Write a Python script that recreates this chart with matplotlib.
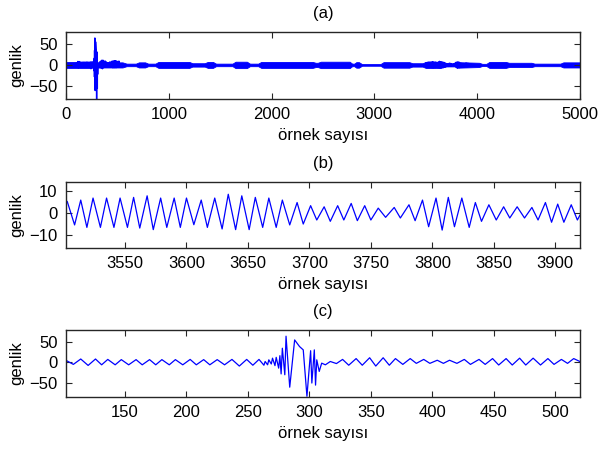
import matplotlib
matplotlib.use("Agg")
import matplotlib.pyplot as plt

plt.rcParams["font.family"] = ["Liberation Sans", "DejaVu Sans"]
plt.rcParams["font.size"] = 12

# (a) whole record: amplitude envelope of the dense oscillation (sample, +/- amplitude)
env_pos = [0, 240, 250, 320, 550, 590, 680, 710, 770, 800, 870, 900, 1200, 1230, 1350,
           1380, 1430, 1460, 1620, 1650, 1760, 1790, 1870, 1900, 2400, 2430, 2450, 2480,
           2760, 2785, 2805, 2825, 2850, 2880, 3060, 3090, 3340, 3370, 3470, 3500, 3640,
           3700, 3790, 3805, 4020, 4050, 4090, 4120, 4280, 4310, 4530, 4560, 4810, 4840, 5000]
env_amp = [7, 7, 6, 6, 6, 3, 3, 6, 6, 3, 3, 7, 7, 4, 4,
           7, 7, 3, 3, 7.5, 7.5, 3, 3, 7, 7, 5, 5, 7.5,
           7.5, 3, 3, 6.5, 6.5, 2, 2, 6.5, 6.5, 4, 4, 7, 7,
           3.5, 3.5, 6.5, 5, 2.5, 2.5, 7, 7, 5, 5, 3, 3, 6, 6]

# (b) samples 3502-3920: peaks and troughs
b_pos = [3502, 3503, 3509, 3514, 3519, 3524, 3530, 3535, 3541, 3546, 3552, 3557, 3562, 3568,
         3573, 3579, 3584, 3590, 3595, 3600, 3606, 3612, 3617, 3623, 3629, 3634, 3640, 3645,
         3651, 3656, 3662, 3667, 3673, 3678, 3684, 3690, 3695, 3701, 3706, 3712, 3717, 3723,
         3728, 3734, 3739, 3745, 3750, 3756, 3762, 3769, 3774, 3781, 3786, 3792, 3797, 3803,
         3808, 3813, 3818, 3824, 3830, 3835, 3840, 3846, 3852, 3858, 3863, 3869, 3875, 3881,
         3886, 3892, 3897, 3902, 3907, 3913, 3918, 3920]
b_val = [4.0, 5.2, -5.3, 5.8, -6.4, 6.7, -6.4, 6.7, -6.4, 6.7, -6.4, 7.0, -6.7, 7.7,
         -7.4, 6.7, -6.4, 6.7, -6.4, 6.7, -5.2, 5.8, -6.4, 6.7, -7.1, 8.4, -7.4, 7.7,
         -7.4, 7.0, -6.4, 6.7, -6.4, 5.8, -5.3, 4.7, -4.9, 3.3, -3.1, 2.8, -3.7, 3.3,
         -3.1, 4.3, -3.4, 3.3, -3.1, 2.2, -1.9, 2.5, -2.2, 3.7, -3.4, 5.8, -6.1, 6.7,
         -7.6, 7.0, -6.1, 6.7, -6.4, 4.7, -3.7, 3.7, -3.1, 2.8, -2.2, 2.8, -2.2, 2.5,
         -3.1, 4.7, -4.1, 4.0, -4.1, 3.7, -3.1, -1.0]

# (c) samples 102-520: peaks and troughs around the burst
c_pos = [102, 108, 114, 120, 126, 131, 136, 142, 147, 153, 159, 164, 170, 175, 180, 186,
         191, 197, 203, 208, 214, 219, 225, 231, 237, 243, 249, 254, 259, 263, 264, 266,
         267, 269, 270, 272, 273, 275, 276, 277, 278, 280, 281, 284, 288, 292, 295, 298,
         301, 302, 304, 305, 306, 308, 310, 313, 317, 322, 327, 332, 338, 343, 349, 354,
         360, 365, 370, 376, 382, 387, 393, 398, 404, 409, 414, 420, 426, 431, 438, 443,
         449, 454, 460, 465, 471, 476, 482, 488, 494, 499, 505, 510, 515, 520]
c_val = [4.7, -5, 8, -7.5, 8, -6, 7, -6, 6.5, -6, 6.5, -6, 6.5, -6, 6.5, -6,
         6.5, -6, 7, -6, 6.5, -6, 6.5, -6, 7, -9, 7, -7, 7, -7, 2, -6,
         6, -4, 10, -8, 12, -14, 16, -28, 34, -30, 63, -60, 54, 38, 30, -82,
         28, -50, 30, -55, 6, -22, -2, -6, 2, -3, 7, -7, 9, -7, 11, -9,
         11, -7, 9, -5, 9, -2.5, 7, -2.5, 5, -2.5, 5, -2.5, 7, -5, 7, -5,
         9, -6.5, 9, -6.5, 10, -6.5, 10, -6.5, 9, -5, 7, -2.5, 9, 2]

blue = "#0000ff"
edge = "#262626"

fig = plt.figure(figsize=(6.01, 4.5), dpi=100)
ax_a = fig.add_axes([0.1098, 0.7807, 0.855, 0.1482])
ax_b = fig.add_axes([0.1098, 0.4489, 0.855, 0.1473])
ax_c = fig.add_axes([0.1098, 0.1184, 0.855, 0.1483])

lo = [-v for v in env_amp]
ax_a.fill_between(env_pos, lo, env_amp, color=blue, linewidth=0.6)
ax_a.plot(c_pos, c_val, color=blue, linewidth=1.0)
ax_a.plot(b_pos, b_val, color=blue, linewidth=1.0)
ax_a.set_xlim(0, 5000)
ax_a.set_ylim(-79, 77)
ax_a.set_xticks(range(0, 5001, 1000))
ax_a.set_yticks([-50, 0, 50])
ax_a.set_title("(a)", fontsize=12, pad=10)

ax_b.plot(b_pos, b_val, color=blue, linewidth=0.9, solid_joinstyle="round")
ax_b.set_xlim(3502, 3920)
ax_b.set_ylim(-15.6, 14)
ax_b.set_xticks(range(3550, 3901, 50))
ax_b.set_yticks([-10, 0, 10])
ax_b.set_title("(b)", fontsize=12, pad=10)

ax_c.plot(c_pos, c_val, color=blue, linewidth=0.9, solid_joinstyle="round")
ax_c.set_xlim(102, 520)
ax_c.set_ylim(-83, 78)
ax_c.set_xticks(range(150, 501, 50))
ax_c.set_yticks([-50, 0, 50])
ax_c.set_title("(c)", fontsize=12, pad=10)

for ax in (ax_a, ax_b, ax_c):
    ax.set_xlabel("örnek sayısı", labelpad=4)
    ax.set_ylabel("genlik", labelpad=4)
    ax.tick_params(direction="in", top=True, right=True, length=4, width=0.8,
                   color=edge, labelsize=12, pad=6)
    for sp in ax.spines.values():
        sp.set_color(edge)
        sp.set_linewidth(1.0)

fig.savefig("out.png", dpi=100)
